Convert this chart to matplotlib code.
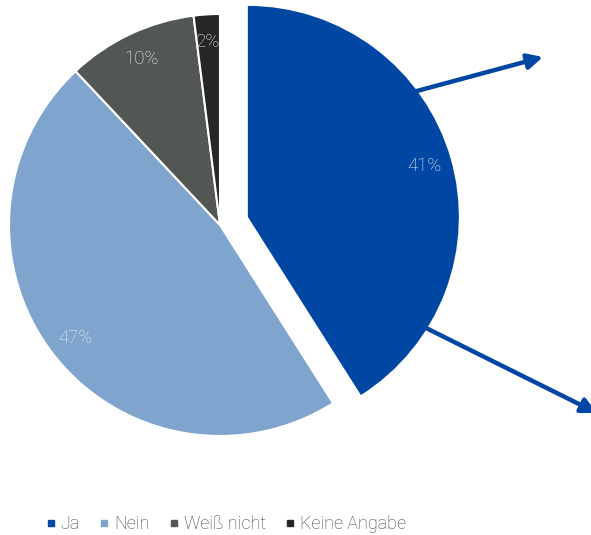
import numpy as np
import matplotlib
matplotlib.use("Agg")
import matplotlib.pyplot as plt
from matplotlib.lines import Line2D

plt.rcParams['font.family'] = ['Roboto', 'DejaVu Sans']

categories = ['Ja', 'Nein', 'Weiß nicht', 'Keine Angabe']
shares = [41, 47, 10, 2]
colors = ['#0047A3', '#7FA5CE', '#535753', '#262626']

W, H = 591, 535
fig = plt.figure(figsize=(W / 100, H / 100), dpi=100)
ax = fig.add_axes([0, 0, 1, 1])
ax.set_xlim(0, W)
ax.set_ylim(0, H)
ax.set_aspect('equal')
ax.axis('off')

center = (220, 310)
radius = 211
explode = [29, 0, 0, 0]

wedges, texts, autotexts = ax.pie(
    shares, colors=colors, explode=explode, center=center, radius=radius,
    startangle=90, counterclock=False, autopct='%d%%', pctdistance=0.87,
    wedgeprops=dict(edgecolor='white', linewidth=1.5),
    textprops=dict(color='#EDEDED', fontsize=13.5, fontweight='light'))
wedges[0].set_linewidth(0)
ax.set_xlim(0, W)
ax.set_ylim(0, H)

# arrows leaving the "Ja" slice from its outer rim
ja = wedges[0]
cx, cy = ja.center
for ang, end in [(53, (543, 478)), (122, (597, 122))]:
    t = np.deg2rad(90 - ang)
    start = (cx + radius * 0.985 * np.cos(t), cy + radius * 0.985 * np.sin(t))
    ax.annotate('', xy=end, xytext=start, annotation_clip=False,
                arrowprops=dict(arrowstyle='-|>,head_length=0.9,head_width=0.45',
                                color='#0047A3', lw=3.2, shrinkA=0, shrinkB=0))

handles = [Line2D([], [], marker='s', linestyle='none', markersize=5,
                  markerfacecolor=c, markeredgecolor=c) for c in colors]
fig.legend(handles, categories, loc='center', bbox_to_anchor=(224 / W, 11 / H),
           ncol=4, frameon=False, handletextpad=0.05, columnspacing=0.85,
           handlelength=1.0, prop=dict(size=13, weight='light'),
           labelcolor='#404040')

fig.savefig('out.png', dpi=100)
